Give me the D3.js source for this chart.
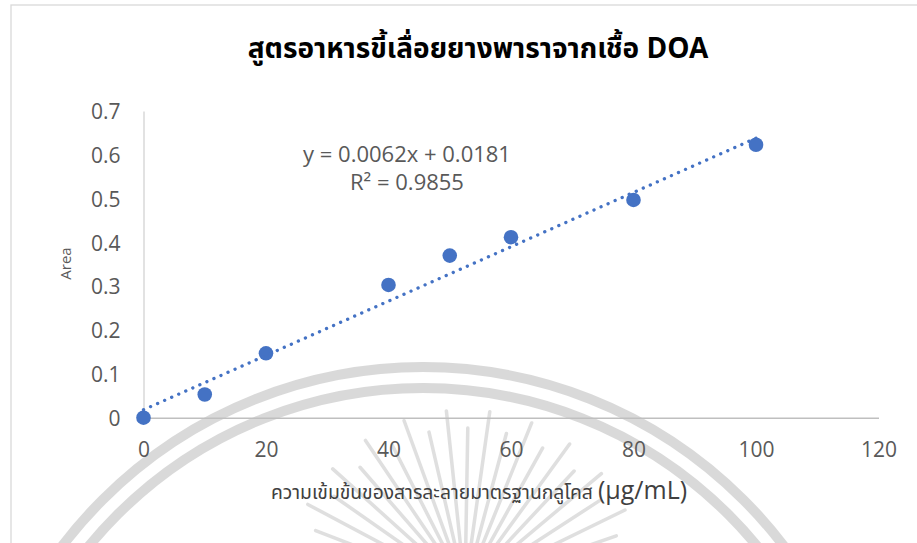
<!DOCTYPE html>
<html>
<head>
<meta charset="utf-8">
<script src="https://cdn.jsdelivr.net/npm/d3@7"></script>
<style>
  html, body { margin: 0; padding: 0; background: #ffffff; }
  svg { display: block; }
</style>
</head>
<body>
<svg id="chart" width="917" height="543"></svg>
<script>
// Glucose standard concentrations (µg/mL) and measured peak areas
const concentrations = [0, 10, 20, 40, 50, 60, 80, 100];
const areas = [0, 0.053, 0.147, 0.303, 0.370, 0.412, 0.497, 0.623];

// Linear trend reported for the series
const trendSlope = 0.0062;
const trendIntercept = 0.0181;
const trendR2 = 0.9855;

const xTicks = [0, 20, 40, 60, 80, 100, 120];
const yTicks = [0, 0.1, 0.2, 0.3, 0.4, 0.5, 0.6, 0.7];

const titleText = "สูตรอาหารขี้เลื่อยยางพาราจากเชื้อ DOA";
const xTitleThai = "ความเข้มข้นของสารละลายมาตรฐานกลูโคส";
const xTitleUnit = "(µg/mL)";
const yTitle = "Area";

const W = 917, H = 543;
const svg = d3.select("#chart");
const latin = "'Open Sans', 'Noto Sans', sans-serif";
const thai = "'Noto Sans Thai', 'Noto Sans Thai UI', 'Tahoma', 'Loma', 'Garuda', sans-serif";

const x = d3.scaleLinear().domain([0, 120]).range([143.5, 878.5]);
const y = d3.scaleLinear().domain([0, 0.7]).range([417.7, 111]);

// faint seal watermark in the page background
const wm = svg.append("g").attr("opacity", 0.5);
const cx = 423, cy = 820;
[453, 432].forEach(r => {
  wm.append("circle").attr("cx", cx).attr("cy", cy).attr("r", r)
    .attr("fill", "none").attr("stroke", "#b4b4b4").attr("stroke-width", 10);
});
const rc = { x: 465, y: 588 };
d3.range(-166, -12, 7).forEach((a, i) => {
  const t = a * Math.PI / 180;
  const r0 = 45, r1 = i % 2 ? 160 : 178;
  wm.append("line")
    .attr("x1", rc.x + r0 * Math.cos(t)).attr("y1", rc.y + r0 * Math.sin(t))
    .attr("x2", rc.x + r1 * Math.cos(t)).attr("y2", rc.y + r1 * Math.sin(t))
    .attr("stroke", "#c0c0c0").attr("stroke-width", 3.5).attr("stroke-linecap", "round");
});

// chart frame
svg.append("rect").attr("x", 11).attr("y", 5).attr("width", W).attr("height", H)
  .attr("fill", "none").attr("stroke", "#d9d9d9").attr("stroke-width", 1.3);

// title
svg.append("text").attr("x", 478).attr("y", 58).attr("text-anchor", "middle")
  .attr("font-family", thai).attr("font-weight", "bold").attr("font-size", 28)
  .attr("fill", "#000").text(titleText);

// axes
const xAxis = svg.append("g").attr("transform", `translate(0,${y(0)})`)
  .call(d3.axisBottom(x).tickValues(xTicks).tickSize(0).tickPadding(0));
xAxis.select(".domain").attr("stroke", "#bfbfbf").attr("stroke-width", 1.5);
xAxis.selectAll("text").attr("y", 39).attr("dy", null)
  .attr("font-family", latin).attr("font-size", 21).attr("fill", "#595959");

const yAxis = svg.append("g").attr("transform", `translate(${x(0)},0)`)
  .call(d3.axisLeft(y).tickValues(yTicks).tickSize(0).tickFormat(d => d === 0 ? "0" : d3.format(".1f")(d)));
yAxis.select(".domain").attr("stroke", "#d9d9d9").attr("stroke-width", 1.5);
yAxis.selectAll("text").attr("x", -23).attr("dy", "0.36em")
  .attr("font-family", latin).attr("font-size", 21).attr("fill", "#595959");

// axis titles
svg.append("text").attr("transform", "translate(71,263.5) rotate(-90)")
  .attr("text-anchor", "middle").attr("font-family", latin).attr("font-size", 15)
  .attr("fill", "#595959").text(yTitle);

const xt = svg.append("text").attr("x", 479).attr("y", 499).attr("text-anchor", "middle")
  .attr("fill", "#404040");
xt.append("tspan").attr("font-family", thai).attr("font-size", 19.3).text(xTitleThai + " ");
xt.append("tspan").attr("font-family", latin).attr("font-size", 25).text(xTitleUnit);

// data points
svg.append("g").selectAll("circle").data(concentrations).join("circle")
  .attr("cx", (d) => x(d)).attr("cy", (d, i) => y(areas[i])).attr("r", 7.3)
  .attr("fill", "#4472C4");

// dotted linear trendline over the data range
const trendX = d3.extent(concentrations);
svg.append("line")
  .attr("x1", x(trendX[0])).attr("y1", y(trendSlope * trendX[0] + trendIntercept))
  .attr("x2", x(trendX[1])).attr("y2", y(trendSlope * trendX[1] + trendIntercept))
  .attr("stroke", "#4472C4").attr("stroke-width", 3.3)
  .attr("stroke-linecap", "round").attr("stroke-dasharray", "0.1 7.6");

// equation label
const eq = svg.append("g").attr("font-family", latin).attr("font-size", 22)
  .attr("fill", "#595959").attr("text-anchor", "middle");
eq.append("text").attr("x", 407).attr("y", 162)
  .text(`y = ${trendSlope}x + ${trendIntercept}`);
eq.append("text").attr("x", 407).attr("y", 190)
  .text(`R² = ${trendR2}`);
</script>
</body>
</html>
